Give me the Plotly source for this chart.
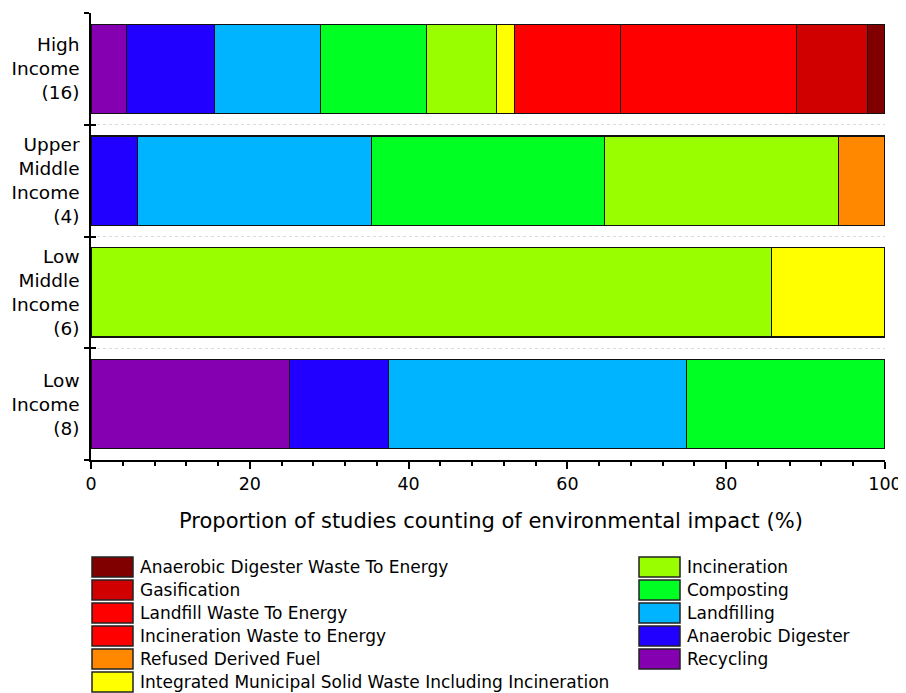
import plotly.graph_objects as go

categories = ["High<br>Income<br>(16)", "Upper<br>Middle<br>Income<br>(4)", "Low<br>Middle<br>Income<br>(6)", "Low<br>Income<br>(8)"]

# stacking order left to right
series_names = [
    "Recycling", "Anaerobic Digester", "Landfilling", "Composting", "Incineration",
    "Integrated Municipal Solid Waste Including Incineration", "Refused Derived Fuel",
    "Incineration Waste to Energy", "Landfill Waste To Energy", "Gasification",
    "Anaerobic Digester Waste To Energy",
]
# values per category: High, Upper Middle, Low Middle, Low
recycling = [4.44, 0, 0, 25.0]
anaerobic_digester = [11.11, 5.88, 0, 12.5]
landfilling = [13.33, 29.41, 0, 37.5]
composting = [13.33, 29.41, 0, 25.0]
incineration = [8.89, 29.41, 85.71, 0]
imsw = [2.22, 0, 14.29, 0]
rdf = [0, 5.88, 0, 0]
incineration_wte = [13.33, 0, 0, 0]
landfill_wte = [22.22, 0, 0, 0]
gasification = [8.89, 0, 0, 0]
ad_wte = [2.22, 0, 0, 0]

series_values = [recycling, anaerobic_digester, landfilling, composting, incineration,
                 imsw, rdf, incineration_wte, landfill_wte, gasification, ad_wte]
colors = ["#8400B0", "#2200FF", "#00B4FF", "#00FF22", "#99FF00",
          "#FFFF00", "#FF8800", "#FF0000", "#FF0000", "#D00000", "#800000"]
x_tick_values = [0, 20, 40, 60, 80, 100]
x_title = "Proportion of studies counting of environmental impact (%)"

# legend columns (top to bottom)
legend_left = list(range(10, 4, -1))   # indices into series_names
legend_right = list(range(4, -1, -1))

font_family = "DejaVu Sans, Verdana, sans-serif"

# page body has an 8px default margin
OFF = 8
FIG_W, FIG_H = 906 - OFF, 693 - OFF

fig = go.Figure()
for name, vals, col in zip(series_names, series_values, colors):
    fig.add_trace(go.Bar(
        y=categories, x=vals, name=name, orientation="h",
        marker=dict(color=col, line=dict(color="#111111", width=1.2)),
        width=0.8, showlegend=False,
    ))

# helper trace to carry the inside-tick overlay axis
fig.add_trace(go.Scatter(y=categories, x=[None] * len(categories), yaxis="y2",
                         mode="markers", showlegend=False, hoverinfo="skip"))

# plot area in screen pixels -> figure pixels
L, R, T, B = 91 - OFF, 885 - OFF, 13 - OFF, 460 - OFF
W, H = R - L, B - T
def px_x(p): return (p - OFF - L) / W
def px_y(p): return (B - (p - OFF)) / H

shapes, annotations = [], []
row0, row_step = 567, 23
for col_x, idx_list in ((92, legend_left), (639, legend_right)):
    for r, i in enumerate(idx_list):
        yc = row0 + r * row_step
        shapes.append(dict(type="rect", xref="paper", yref="paper",
                           x0=px_x(col_x), x1=px_x(col_x + 41),
                           y0=px_y(yc + 10), y1=px_y(yc - 10),
                           fillcolor=colors[i], line=dict(color="#222222", width=1.5)))
        annotations.append(dict(xref="paper", yref="paper", x=px_x(col_x + 46), y=px_y(yc),
                                xanchor="left", yanchor="middle", showarrow=False,
                                text=series_names[i], font=dict(size=17, family=font_family)))

# x-axis title
annotations.append(dict(xref="paper", yref="paper", x=px_x(491), y=px_y(521),
                        xanchor="center", yanchor="middle", showarrow=False,
                        text=x_title, font=dict(size=21, family=font_family)))

fig.update_layout(
    barmode="stack",
    width=FIG_W, height=FIG_H,
    margin=dict(l=L, r=FIG_W - R, t=T, b=FIG_H - B, autoexpand=False),
    plot_bgcolor="white", paper_bgcolor="white",
    font=dict(family=font_family, size=17, color="black"),
    showlegend=False,
    shapes=shapes, annotations=annotations,
    xaxis=dict(
        range=[0, 100], tickvals=x_tick_values,
        ticks="outside", ticklen=7, tickwidth=1.5, tickcolor="black",
        minor=dict(dtick=4, ticks="outside", ticklen=4, tickwidth=1.5, tickcolor="black"),
        showline=True, linecolor="black", linewidth=1.5,
        showgrid=False, zeroline=False, automargin=False,
        tickfont=dict(size=17.5),
    ),
    yaxis=dict(
        categoryorder="array", categoryarray=categories[::-1],
        range=[-0.5, 3.5], automargin=False,
        tickson="boundaries", ticks="outside", ticklen=5, tickwidth=1.5, tickcolor="black",
        showline=True, linecolor="black", linewidth=1.5,
        showgrid=True, gridcolor="#dddddd", griddash="dot", gridwidth=1,
        zeroline=False, tickfont=dict(size=18.5), ticklabelstandoff=6,
    ),
    yaxis2=dict(
        overlaying="y", side="left",
        categoryorder="array", categoryarray=categories[::-1],
        range=[-0.5, 3.5], automargin=False,
        tickson="boundaries", ticks="inside", ticklen=5, tickwidth=1.5, tickcolor="black",
        showticklabels=False, showgrid=False, showline=False, zeroline=False,
    ),
)

fig.write_html("out.html")
